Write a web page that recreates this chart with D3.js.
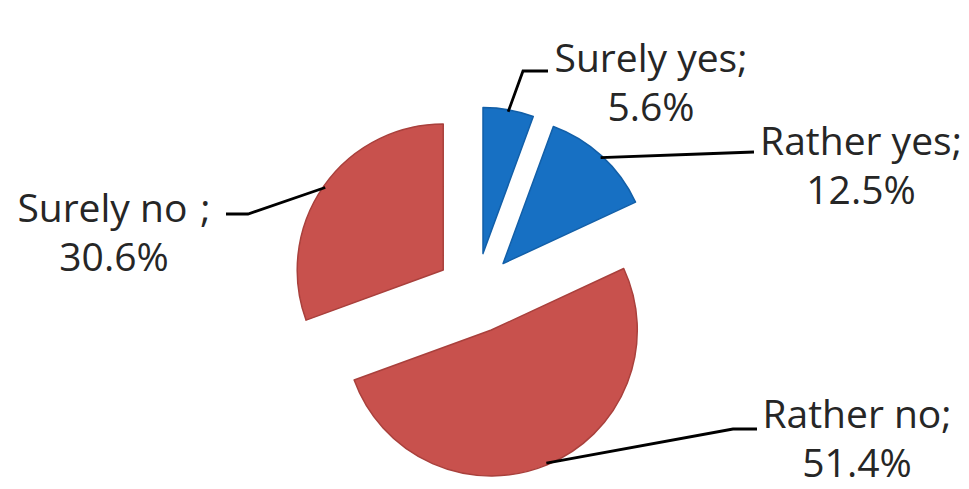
<!DOCTYPE html>
<html>
<head>
<meta charset="utf-8">
<script src="https://cdn.jsdelivr.net/npm/d3@7"></script>
<style>
  html, body { margin: 0; padding: 0; background: #fff; }
  svg { display: block; }
  .lbl { font-family: "Open Sans", sans-serif; font-size: 39px; fill: #262626; }
</style>
</head>
<body>
<div id="chart"></div>
<script>
// Chart data
const categories = ["Surely yes", "Rather yes", "Rather no", "Surely no"];
const values = [5.6, 12.5, 51.4, 30.6];
const percentLabels = ["5.6%", "12.5%", "51.4%", "30.6%"];
const groups = ["yes", "yes", "no", "no"];

const width = 969;
const height = 489;

// Pie geometry
const cx = 476, cy = 293;
const radius = 146;
const explode = 40;

// Label layout: text centre / baseline, and leader-line elbow + end
const labelLayout = {
  "Surely yes": { x: 651, y: 72, elbow: [523, 71], end: [548, 71] },
  "Rather yes": { x: 861, y: 155, elbow: [700, 154], end: [754, 152] },
  "Rather no":  { x: 857, y: 428, elbow: [733, 429], end: [757, 429] },
  "Surely no":  { x: 114, y: 222, elbow: [248, 214], end: [226, 214] }
};

const color = d3.scaleOrdinal()
  .domain(["yes", "no"])
  .range(["#1770c3", "#c8514d"]);
const edge = d3.scaleOrdinal()
  .domain(["yes", "no"])
  .range(["#125fa8", "#a9403c"]);

const rows = categories.map((c, i) => ({ cat: c, value: values[i], pct: percentLabels[i], grp: groups[i] }));

const svg = d3.select("#chart").append("svg")
  .attr("width", width)
  .attr("height", height)
  .attr("viewBox", `0 0 ${width} ${height}`);

const pie = d3.pie().sort(null).value(d => d.value);
const arc = d3.arc().innerRadius(0).outerRadius(radius);
const arcs = pie(rows);

// offset of each slice along its mid angle
function offset(d, dist) {
  const a = (d.startAngle + d.endAngle) / 2;
  return [Math.sin(a) * dist, -Math.cos(a) * dist];
}

const g = svg.append("g").attr("transform", `translate(${cx},${cy})`);

g.selectAll("path.slice")
  .data(arcs)
  .enter()
  .append("path")
  .attr("class", "slice")
  .attr("transform", d => `translate(${offset(d, explode)})`)
  .attr("d", arc)
  .attr("fill", d => color(d.data.grp))
  .attr("stroke", d => edge(d.data.grp))
  .attr("stroke-width", 1.5)
  .attr("stroke-linejoin", "round");

// Leader lines
arcs.forEach(d => {
  const L = labelLayout[d.data.cat];
  const o = offset(d, explode);
  const p = offset(d, radius - 2);
  const start = [cx + o[0] + p[0], cy + o[1] + p[1]];
  svg.append("path")
    .attr("d", d3.line()([start, L.elbow, L.end]))
    .attr("fill", "none")
    .attr("stroke", "#000")
    .attr("stroke-width", 2.8);
});

// Labels
arcs.forEach(d => {
  const L = labelLayout[d.data.cat];
  const t = svg.append("text")
    .attr("class", "lbl")
    .attr("text-anchor", "middle");
  if (d.data.cat === "Surely no") {
    // the original shows a gap before the semicolon
    t.append("tspan").attr("x", L.x).attr("y", L.y).text("Surely no\u2009\u2009;");
  } else {
    t.append("tspan").attr("x", L.x).attr("y", L.y).text(d.data.cat + ";");
  }
  t.append("tspan").attr("x", L.x).attr("y", L.y + 49).text(d.data.pct);
});
</script>
</body>
</html>
